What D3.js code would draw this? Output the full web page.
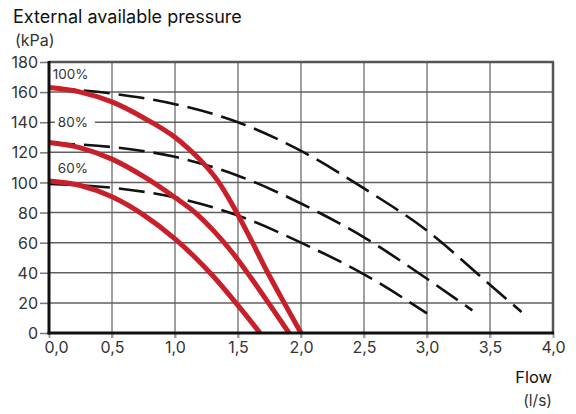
<!DOCTYPE html>
<html><head><meta charset="utf-8">
<script src="https://cdn.jsdelivr.net/npm/d3@7/dist/d3.min.js"></script>
<style>html,body{margin:0;padding:0;background:#fff}svg{display:block}</style>
</head><body><svg id="c" width="576" height="414"></svg>
<script>
const xTicks = [0, 0.5, 1.0, 1.5, 2.0, 2.5, 3.0, 3.5, 4.0];
const xTickLabels = ["0,0","0,5","1,0","1,5","2,0","2,5","3,0","3,5","4,0"];
const yTicks = [0, 20, 40, 60, 80, 100, 120, 140, 160, 180];

// Red (actual) curves: [flow, pressure]
const red100 = [[0,163],[0.25,160],[0.5,153.5],[0.75,143],[1.0,130],[1.1,123],[1.2,115],[1.34,101],[1.47,83],[1.6,62.5],[1.73,41],[1.87,19.5],[2.0,0]];
const red80  = [[0,126.5],[0.25,123],[0.5,115.5],[0.75,104],[1.0,90],[1.16,80],[1.3,68.5],[1.45,54],[1.6,37],[1.75,19],[1.905,0]];
const red60  = [[0,101],[0.25,98],[0.5,90.5],[0.75,78.5],[1.0,62.5],[1.15,51],[1.3,38],[1.49,19.3],[1.675,0]];
// Dashed curves
const dash100 = [[0,163],[0.5,159],[1.0,152],[1.5,140],[2.0,121],[2.5,96],[3.0,68],[3.5,32],[3.75,14]];
const dash80  = [[0,126],[0.5,123.5],[1.0,117],[1.5,104.5],[2.0,86],[2.5,63.5],[3.0,36],[3.36,15]];
const dash60  = [[0,99],[0.5,96.5],[1.0,90],[1.5,78],[2.0,60],[2.5,39],[3.0,13]];

const curveLabels = ["100%","80%","60%"];
const curveLabelPos = [[0.03,172],[0.07,139.7],[0.07,109.5]];

const svg = d3.select("#c");
const L = 49, R = 553, T = 62, B = 333;
const x = d3.scaleLinear().domain([0,4]).range([L,R]);
const y = d3.scaleLinear().domain([0,180]).range([B,T]);
const font = "Inter, 'Open Sans', sans-serif";

svg.append("rect").attr("width",576).attr("height",414).attr("fill","#fff");

// vertical grid
svg.append("g").selectAll("line").data(xTicks.filter(d=>d>0 && d<4)).join("line")
  .attr("x1",d=>x(d)).attr("x2",d=>x(d)).attr("y1",T).attr("y2",B+5)
  .attr("stroke","#a0a0a0").attr("stroke-width",2);
// horizontal grid
svg.append("g").selectAll("line").data(yTicks.filter(d=>d>0 && d<180)).join("line")
  .attr("x1",L).attr("x2",R).attr("y1",d=>y(d)).attr("y2",d=>y(d))
  .attr("stroke","#606060").attr("stroke-width",1.5);

// axes (ticks + labels)
const yAxis = svg.append("g").attr("transform",`translate(${L},0)`)
  .call(d3.axisLeft(y).tickValues(yTicks).tickSize(9).tickPadding(2).tickFormat(d3.format("d")));
yAxis.select(".domain").remove();
yAxis.selectAll("line").attr("stroke","#777").attr("stroke-width",1.5);
yAxis.selectAll("text").attr("font-family",font).attr("font-size",16).attr("fill","#333").attr("dy","0.35em");

const xAxis = svg.append("g").attr("transform",`translate(0,${B})`)
  .call(d3.axisBottom(x).tickValues(xTicks).tickSize(5).tickPadding(4).tickFormat((d,i)=>xTickLabels[i]));
xAxis.select(".domain").remove();
xAxis.selectAll("line").attr("stroke","#a0a0a0").attr("stroke-width",2);
xAxis.selectAll("text").attr("font-family",font).attr("font-size",16).attr("fill","#333")
  .attr("dx",(d,i)=>i===0?7:0);

// frame: top & right
svg.append("line").attr("x1",L).attr("x2",R+1).attr("y1",T).attr("y2",T).attr("stroke","#555").attr("stroke-width",2.5);
svg.append("line").attr("x1",R).attr("x2",R).attr("y1",T).attr("y2",B).attr("stroke","#555").attr("stroke-width",2.5);

// curve labels with white background
curveLabels.forEach((t,i)=>{
  const g = svg.append("g");
  const px = x(curveLabelPos[i][0]), py = y(curveLabelPos[i][1]);
  g.append("rect").attr("x",px-3).attr("y",py-9).attr("width",i===0?38:40).attr("height",18).attr("fill","#fff");
  g.append("text").attr("x",px).attr("y",py).attr("dy","0.35em").text(t)
    .attr("font-family",font).attr("font-size",13.5).attr("fill","#333");
});

const line = d3.line().x(d=>x(d[0])).y(d=>y(d[1])).curve(d3.curveMonotoneX);

[dash100,dash80,dash60].forEach(d=>{
  svg.append("path").attr("d",line(d)).attr("fill","none").attr("stroke","#111")
    .attr("stroke-width",2.6).attr("stroke-dasharray","26,9");
});
[red100,red80,red60].forEach(d=>{
  svg.append("path").attr("d",line(d)).attr("fill","none").attr("stroke","#c8202a")
    .attr("stroke-width",5);
});

// left & bottom axis lines
svg.append("line").attr("x1",L).attr("x2",L).attr("y1",T-1).attr("y2",B+1.5).attr("stroke","#111").attr("stroke-width",3);
svg.append("line").attr("x1",L-1.5).attr("x2",R+1).attr("y1",B).attr("y2",B).attr("stroke","#111").attr("stroke-width",3);

// titles
svg.append("text").attr("x",13).attr("y",23).text("External available pressure")
  .attr("font-family",font).attr("font-size",18).attr("fill","#111");
svg.append("text").attr("x",15).attr("y",46).text("(kPa)")
  .attr("font-family",font).attr("font-size",16).attr("fill","#333");
svg.append("text").attr("x",552).attr("y",383).attr("text-anchor","end").text("Flow")
  .attr("font-family",font).attr("font-size",16.5).attr("fill","#111");
svg.append("text").attr("x",552).attr("y",406).attr("text-anchor","end").text("(l/s)")
  .attr("font-family",font).attr("font-size",15.5).attr("fill","#333");
</script></body></html>
